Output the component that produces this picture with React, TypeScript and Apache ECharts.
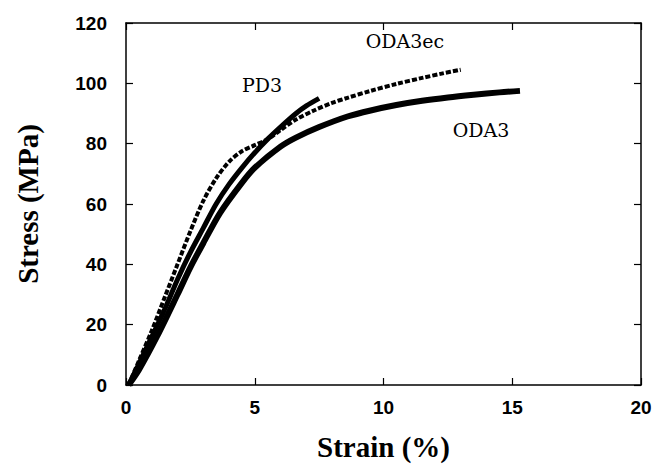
import React, { useEffect, useRef } from "react";
import * as echarts from "echarts";

const xTicks = [0, 5, 10, 15, 20];
const yTicks = [0, 20, 40, 60, 80, 100, 120];

const oda3: [number, number][] = [
  [0.1, 0], [0.5, 5], [1.2, 16], [2, 30], [2.5, 39], [3, 47], [3.65, 57], [4.5, 67],
  [5, 72], [6, 79], [6.6, 82], [7.5, 85.5], [8.6, 89], [9.5, 91], [10.5, 92.8],
  [11.5, 94.2], [12.5, 95.3], [13.5, 96.2], [14.5, 97], [15.3, 97.5],
];

const pd3: [number, number][] = [
  [0.1, 0], [0.5, 7], [1, 16], [1.5, 25], [2, 35], [2.5, 44], [3, 52], [3.5, 60],
  [4, 66.5], [4.5, 72], [5, 77], [5.5, 81.5], [6, 85.5], [6.6, 90], [7, 92.5], [7.5, 95],
];

const oda3ec: [number, number][] = [
  [0.1, 0], [0.5, 8], [1, 18], [1.5, 29], [2, 40], [2.5, 51], [3, 61], [3.5, 68.5],
  [4, 74], [4.5, 77.5], [5, 79.5], [5.5, 81.5], [6, 84.5], [6.6, 88], [7.3, 91],
  [8, 93.5], [8.6, 95.2], [9.5, 97.5], [10.5, 99.8], [11.5, 101.8], [12.3, 103.3], [13, 104.5],
];

const labels = [
  { text: "PD3", x: 262, y: 85 },
  { text: "ODA3ec", x: 405, y: 41 },
  { text: "ODA3", x: 481, y: 130 },
];

export default function App() {
  const ref = useRef<HTMLDivElement>(null);
  useEffect(() => {
    if (!ref.current) return;
    const chart = echarts.init(ref.current, undefined, { renderer: "svg" });
    const tickFont = { fontFamily: "Liberation Sans", fontWeight: "bold" as const, fontSize: 19, color: "#000" };
    const baseLine = { show: true, onZero: false, lineStyle: { color: "#000", width: 1.5 } };
    const tick = { show: true, inside: true, length: 7, lineStyle: { color: "#000", width: 1.2 } };
    chart.setOption({
      animation: false,
      backgroundColor: "#fff",
      grid: { left: 126, right: 12, top: 23, bottom: 80, containLabel: false, outerBoundsMode: "none" },
      xAxis: [
        {
          type: "value", min: 0, max: 20, interval: 5, position: "bottom",
          axisLine: baseLine, axisTick: tick,
          axisLabel: { ...tickFont, margin: 13, formatter: (v: number) => (xTicks.includes(v) ? String(v) : "") },
          splitLine: { show: false },
          name: "Strain (%)", nameLocation: "middle", nameGap: 47,
          nameTextStyle: { fontFamily: "Liberation Serif", fontWeight: "bold", fontSize: 29, color: "#000" },
        },
        {
          type: "value", min: 0, max: 20, interval: 5, position: "top",
          axisLine: baseLine, axisTick: tick,
          axisLabel: { show: false }, splitLine: { show: false },
        },
      ],
      yAxis: [
        {
          type: "value", min: 0, max: 120, interval: 20, position: "left",
          axisLine: baseLine, axisTick: tick,
          axisLabel: { ...tickFont, margin: 19, formatter: (v: number) => (yTicks.includes(v) ? String(v) : "") },
          splitLine: { show: false },
          name: "Stress (MPa)", nameLocation: "middle", nameGap: 84,
          nameTextStyle: { fontFamily: "Liberation Serif", fontWeight: "bold", fontSize: 29, color: "#000" },
        },
        {
          type: "value", min: 0, max: 120, interval: 20, position: "right",
          axisLine: baseLine, axisTick: tick,
          axisLabel: { show: false }, splitLine: { show: false },
        },
      ],
      series: [
        {
          type: "line", data: oda3, showSymbol: false, smooth: 0.3,
          lineStyle: { color: "#000", width: 6 },
        },
        {
          type: "line", data: pd3, showSymbol: false, smooth: 0.3,
          lineStyle: { color: "#000", width: 5 },
        },
        {
          type: "line", data: oda3ec, showSymbol: false, smooth: 0.3,
          lineStyle: { color: "#000", width: 4, type: [5, 2] },
        },
      ],
      graphic: labels.map((l) => ({
        type: "text", x: l.x, y: l.y,
        style: {
          text: l.text, fontFamily: "DejaVu Serif", fontSize: 19, fill: "#000",
          align: "center", verticalAlign: "middle",
        },
      })),
    });
    return () => chart.dispose();
  }, []);
  return <div ref={ref} style={{ width: 653, height: 465, position: "absolute", left: 0, top: 0 }} />;
}
